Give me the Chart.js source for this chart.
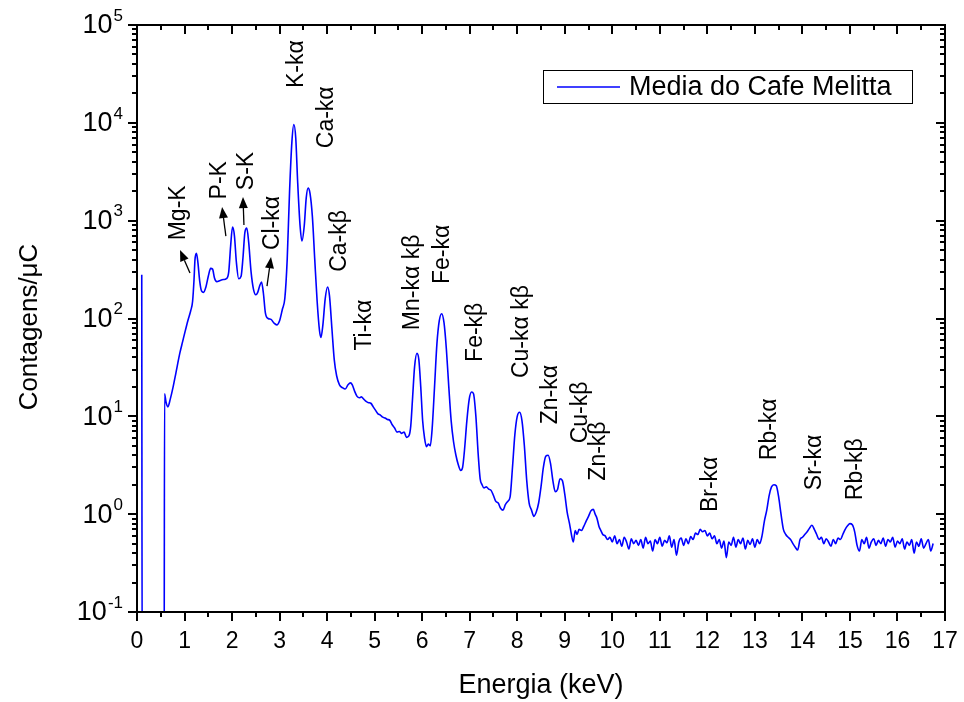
<!DOCTYPE html>
<html>
<head>
<meta charset="utf-8">
<script src="https://cdn.jsdelivr.net/npm/chart.js@4.4.1/dist/chart.umd.min.js"></script>
<style>
  body { margin: 0; background: #fff; }
  #wrap { width: 964px; height: 702px; }
</style>
</head>
<body>
<div id="wrap"><canvas id="spec" width="964" height="702"></canvas></div>
<script>
// spectrum (keV, counts per uC)
const energy = [
  0.10, 0.11, 0.57, 0.58, 0.61, 0.65, 0.70, 0.76, 0.82, 0.90, 0.96, 1.01, 1.07, 1.13, 1.17, 1.20, 1.22, 1.25, 1.28, 1.32,
  1.36, 1.40, 1.45, 1.50, 1.55, 1.59, 1.63, 1.68, 1.75, 1.82, 1.88, 1.93, 1.97, 2.01, 2.05, 2.09, 2.14, 2.19, 2.23, 2.27,
  2.31, 2.35, 2.40, 2.45, 2.50, 2.54, 2.58, 2.62, 2.66, 2.70, 2.76, 2.82, 2.88, 2.94, 3.00, 3.06, 3.11, 3.16, 3.21, 3.26,
  3.30, 3.34, 3.38, 3.43, 3.47, 3.52, 3.56, 3.60, 3.64, 3.69, 3.74, 3.79, 3.84, 3.87, 3.91, 3.96, 4.01, 4.05, 4.10, 4.15,
  4.20, 4.26, 4.33, 4.38, 4.44, 4.49, 4.53, 4.58, 4.63, 4.68, 4.72, 4.77, 4.82, 4.87, 4.92, 4.97, 5.02, 5.07, 5.12, 5.17,
  5.22, 5.27, 5.32, 5.37, 5.42, 5.47, 5.52, 5.57, 5.62, 5.67, 5.72, 5.76, 5.80, 5.84, 5.89, 5.93, 5.97, 6.01, 6.05, 6.09,
  6.13, 6.17, 6.21, 6.26, 6.31, 6.36, 6.41, 6.46, 6.51, 6.56, 6.61, 6.66, 6.71, 6.76, 6.81, 6.85, 6.89, 6.94, 6.99, 7.04,
  7.08, 7.13, 7.18, 7.22, 7.26, 7.30, 7.35, 7.40, 7.45, 7.50, 7.55, 7.60, 7.65, 7.70, 7.75, 7.80, 7.85, 7.90, 7.95, 8.00,
  8.05, 8.10, 8.15, 8.20, 8.25, 8.30, 8.35, 8.40, 8.45, 8.50, 8.55, 8.60, 8.65, 8.70, 8.75, 8.80, 8.85, 8.90, 8.95, 9.00,
  9.05, 9.10, 9.14, 9.18, 9.22, 9.26, 9.30, 9.35, 9.40, 9.45, 9.50, 9.55, 9.60, 9.64, 9.68, 9.72, 9.76, 9.80, 9.85, 9.90,
  9.95, 10.00, 10.05, 10.10, 10.15, 10.20, 10.25, 10.30, 10.35, 10.40, 10.45, 10.50, 10.55, 10.60, 10.65, 10.70, 10.75, 10.80, 10.85, 10.90,
  10.95, 11.00, 11.05, 11.10, 11.15, 11.20, 11.25, 11.30, 11.35, 11.40, 11.45, 11.50, 11.55, 11.60, 11.65, 11.70, 11.75, 11.80, 11.85, 11.90,
  11.95, 12.00, 12.05, 12.10, 12.15, 12.20, 12.25, 12.30, 12.35, 12.40, 12.45, 12.50, 12.55, 12.60, 12.65, 12.70, 12.75, 12.80, 12.85, 12.90,
  12.95, 13.00, 13.05, 13.10, 13.15, 13.20, 13.25, 13.30, 13.35, 13.40, 13.45, 13.50, 13.55, 13.60, 13.65, 13.70, 13.75, 13.80, 13.85, 13.90,
  13.95, 14.00, 14.05, 14.10, 14.15, 14.20, 14.25, 14.30, 14.35, 14.40, 14.45, 14.50, 14.55, 14.60, 14.65, 14.70, 14.75, 14.80, 14.85, 14.90,
  14.95, 15.00, 15.05, 15.10, 15.15, 15.20, 15.25, 15.30, 15.35, 15.40, 15.45, 15.50, 15.55, 15.60, 15.65, 15.70, 15.75, 15.80, 15.85, 15.90,
  15.95, 16.00, 16.05, 16.10, 16.15, 16.20, 16.25, 16.30, 16.35, 16.40, 16.45, 16.50, 16.55, 16.60, 16.65, 16.70, 16.75
];
const counts = [
  280, 0.01, 0.01, 17, 14, 12.5, 15, 20, 28, 44, 58, 73, 95, 120, 150, 250, 400, 465, 380, 240,
  190, 185, 210, 270, 325, 320, 260, 238, 245, 250, 255, 300, 550, 860, 700, 380, 255, 270, 420, 760,
  840, 600, 300, 200, 175, 185, 215, 236, 180, 115, 100, 98, 90, 86, 95, 125, 160, 400, 2000, 6500,
  9600, 7000, 2500, 900, 620, 900, 1700, 2150, 1900, 1100, 400, 150, 75, 64, 85, 160, 210, 170, 80, 38,
  26, 21, 19.5, 19, 21, 22, 21, 18, 16, 15.5, 15.8, 15.0, 14.2, 13.8, 13.6, 12.5, 11.5, 10.6, 10.3, 9.8,
  9.6, 9.3, 9.1, 8.2, 7.6, 6.9, 7.0, 6.7, 6.9, 6.1, 6.3, 8.0, 16, 32, 44, 38, 20, 9, 6.0, 4.9,
  5.2, 5.0, 7.5, 20, 55, 95, 112, 90, 48, 20, 9, 5.5, 4.0, 3.2, 2.8, 3.0, 4.5, 9, 15, 17.7,
  17, 10, 4, 2.3, 2.0, 1.85, 1.9, 1.80, 1.75, 1.55, 1.35, 1.30, 1.15, 1.10, 1.25, 1.35, 1.5, 3.0, 6.5, 10,
  11, 9, 5, 2.2, 1.3, 1.1, 0.95, 1.05, 1.3, 1.9, 3.0, 3.9, 4.0, 3.3, 2.2, 1.7, 1.8, 2.3, 2.2, 1.6,
  1.05, 0.8, 0.62, 0.52, 0.68, 0.62, 0.70, 0.68, 0.75, 0.85, 0.95, 1.08, 1.12, 1.0, 0.9, 0.75, 0.68, 0.62, 0.6, 0.55,
  0.58, 0.52, 0.60, 0.50, 0.55, 0.47, 0.58, 0.52, 0.44, 0.56, 0.50, 0.54, 0.48, 0.55, 0.45, 0.58, 0.50, 0.53, 0.42, 0.55,
  0.50, 0.58, 0.47, 0.54, 0.51, 0.60, 0.46, 0.55, 0.38, 0.52, 0.57, 0.48, 0.56, 0.50, 0.59, 0.55, 0.64, 0.62, 0.70, 0.66,
  0.68, 0.60, 0.64, 0.56, 0.60, 0.50, 0.55, 0.45, 0.53, 0.36, 0.52, 0.48, 0.58, 0.46, 0.55, 0.50, 0.57, 0.44, 0.54, 0.49,
  0.56, 0.46, 0.55, 0.50, 0.60, 0.85, 1.10, 1.55, 1.90, 2.00, 1.95, 1.50, 1.00, 0.70, 0.62, 0.58, 0.55, 0.50, 0.46, 0.43,
  0.55, 0.58, 0.62, 0.66, 0.72, 0.77, 0.70, 0.62, 0.55, 0.58, 0.50, 0.56, 0.52, 0.47, 0.55, 0.50, 0.57, 0.55, 0.62, 0.70,
  0.76, 0.80, 0.78, 0.66, 0.48, 0.42, 0.55, 0.50, 0.58, 0.45, 0.52, 0.56, 0.48, 0.54, 0.50, 0.57, 0.47, 0.55, 0.52, 0.58,
  0.46, 0.53, 0.50, 0.56, 0.44, 0.52, 0.48, 0.55, 0.40, 0.52, 0.47, 0.56, 0.45, 0.50, 0.55, 0.42, 0.50
];

const yExponents = [-1, 0, 1, 2, 3, 4, 5];

// peak labels (energy, counts at the start of the rotated text)
const peakNames = ['Mg-K', 'P-K', 'S-K', 'Cl-kα', 'K-kα', 'Ca-kα', 'Ca-kβ', 'Ti-kα', 'Mn-kα kβ', 'Fe-kα',
  'Fe-kβ', 'Cu-kα kβ', 'Zn-kα', 'Cu-kβ', 'Zn-kβ', 'Br-kα', 'Rb-kα', 'Sr-kα', 'Rb-kβ'];
const peakE = [0.88, 1.74, 2.31, 2.85, 3.35, 4.00, 4.26, 4.78, 5.79, 6.44,
  7.13, 8.10, 8.71, 9.34, 9.72, 12.07, 13.32, 14.26, 15.13];
const peakC = [630, 1650, 2050, 500, 22700, 5500, 300, 47, 76, 225,
  36, 24.6, 8.3, 5.3, 2.2, 1.05, 3.56, 1.76, 1.39];

// little arrows near the light-element peaks
const arrowTailE = [1.115, 1.87, 2.25, 2.735];
const arrowTailC = [291, 696, 902, 214];
const arrowHeadE = [0.905, 1.79, 2.23, 2.82];
const arrowHeadC = [500, 1377, 1742, 424];

const FONT = "'Liberation Sans', Arial, sans-serif";

const originStyle = {
  id: 'originStyle',
  afterDraw(chart) {
    const { ctx, chartArea: a, scales: { x, y } } = chart;
    ctx.save();
    ctx.strokeStyle = '#000';
    ctx.fillStyle = '#000';

    // frame
    ctx.lineWidth = 2;
    ctx.strokeRect(a.left, a.top, a.right - a.left, a.bottom - a.top);

    // x ticks: outward on bottom, inward on top
    for (let v = 0; v <= 17; v += 0.5) {
      const px = Math.round(x.getPixelForValue(v));
      const len = Number.isInteger(v) ? 9 : 5;
      ctx.beginPath();
      ctx.moveTo(px, a.bottom); ctx.lineTo(px, a.bottom + len);
      ctx.moveTo(px, a.top); ctx.lineTo(px, a.top + len);
      ctx.stroke();
    }
    // y ticks: outward on left, inward on right
    yExponents.forEach(e => {
      for (let s = 1; s <= 9; s++) {
        if (e === 5 && s > 1) break;
        const py = Math.round(y.getPixelForValue(s * Math.pow(10, e)));
        const len = s === 1 ? 9 : 5;
        ctx.beginPath();
        ctx.moveTo(a.left - len, py); ctx.lineTo(a.left, py);
        ctx.moveTo(a.right - len, py); ctx.lineTo(a.right, py);
        ctx.stroke();
      }
    });

    // y tick labels 10^n
    yExponents.forEach(e => {
      const py = y.getPixelForValue(Math.pow(10, e));
      const exp = e < 0 ? '-' + Math.abs(e) : String(e);
      ctx.font = '17px ' + FONT;
      const ew = ctx.measureText(exp).width;
      const xr = a.left - 14;
      ctx.textAlign = 'left';
      ctx.textBaseline = 'middle';
      ctx.fillText(exp, xr - ew, py - 9);
      ctx.font = '27px ' + FONT;
      ctx.textAlign = 'right';
      ctx.fillText('10', xr - ew - 1, py + 1);
    });

    // axis titles
    ctx.font = '27px ' + FONT;
    ctx.textAlign = 'center';
    ctx.textBaseline = 'alphabetic';
    ctx.fillText('Energia (keV)', (a.left + a.right) / 2, 693);
    ctx.save();
    ctx.translate(37, 327);
    ctx.rotate(-Math.PI / 2);
    ctx.font = '26px ' + FONT;
    ctx.fillText('Contagens/μC', 0, 0);
    ctx.restore();

    // peak labels
    ctx.font = '23px ' + FONT;
    ctx.textAlign = 'left';
    ctx.textBaseline = 'middle';
    peakNames.forEach((name, i) => {
      ctx.save();
      ctx.translate(x.getPixelForValue(peakE[i]), y.getPixelForValue(peakC[i]));
      ctx.rotate(-Math.PI / 2);
      ctx.fillText(name, 0, 0);
      ctx.restore();
    });

    // arrows
    ctx.lineWidth = 1.3;
    arrowTailE.forEach((te, i) => {
      const x0 = x.getPixelForValue(te), y0 = y.getPixelForValue(arrowTailC[i]);
      const x1 = x.getPixelForValue(arrowHeadE[i]), y1 = y.getPixelForValue(arrowHeadC[i]);
      const ang = Math.atan2(y1 - y0, x1 - x0);
      const hl = 11, hw = 4.5;
      const bx = x1 - hl * Math.cos(ang), by = y1 - hl * Math.sin(ang);
      ctx.beginPath();
      ctx.moveTo(x0, y0); ctx.lineTo(bx, by);
      ctx.stroke();
      ctx.beginPath();
      ctx.moveTo(x1, y1);
      ctx.lineTo(bx + hw * Math.sin(ang), by - hw * Math.cos(ang));
      ctx.lineTo(bx - hw * Math.sin(ang), by + hw * Math.cos(ang));
      ctx.closePath();
      ctx.fill();
    });

    // legend box
    const lx = a.right - 402, ly = a.top + 45, lw = 369, lh = 33;
    ctx.lineWidth = 1;
    ctx.strokeRect(lx + 0.5, ly + 0.5, lw, lh);
    ctx.strokeStyle = '#0000ff';
    ctx.lineWidth = 1.6;
    ctx.beginPath();
    ctx.moveTo(lx + 14, ly + 17); ctx.lineTo(lx + 77, ly + 17);
    ctx.stroke();
    ctx.fillStyle = '#000';
    ctx.font = '27px ' + FONT;
    ctx.textAlign = 'left';
    ctx.textBaseline = 'middle';
    ctx.fillText(chart.data.datasets[0].label, lx + 86, ly + 18);

    ctx.restore();
  }
};

new Chart(document.getElementById('spec'), {
  type: 'line',
  data: {
    datasets: [{
      label: 'Media do Cafe Melitta',
      data: energy.map((e, i) => ({ x: e, y: counts[i] })),
      borderColor: '#0000ff',
      borderWidth: 1.6,
      pointRadius: 0,
      fill: false,
      cubicInterpolationMode: 'monotone'
    }]
  },
  options: {
    responsive: false,
    animation: false,
    layout: { padding: { top: 25, right: 19, left: 0, bottom: 0 } },
    plugins: { legend: { display: false }, tooltip: { enabled: false } },
    scales: {
      x: {
        type: 'linear', min: 0, max: 17,
        grid: { display: false, drawTicks: false },
        border: { display: false },
        ticks: {
          stepSize: 0.5, autoSkip: false, maxRotation: 0, padding: 16,
          color: '#000', font: { family: FONT, size: 23 },
          callback: v => Number.isInteger(v) ? String(v) : ''
        },
        afterFit: s => { s.height = 90; s.paddingLeft = 0; s.paddingRight = 0; }
      },
      y: {
        type: 'logarithmic', min: 0.1, max: 100000,
        grid: { display: false, drawTicks: false },
        border: { display: false },
        ticks: { display: false },
        afterFit: s => { s.width = 137; s.paddingTop = 0; s.paddingBottom = 0; }
      }
    }
  },
  plugins: [originStyle]
});
</script>
</body>
</html>
